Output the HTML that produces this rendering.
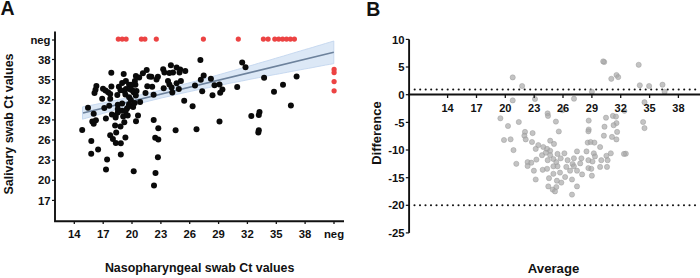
<!DOCTYPE html>
<html><head><meta charset="utf-8"><style>
html,body{margin:0;padding:0;background:#fff;width:700px;height:278px;overflow:hidden}
svg{display:block}
</style></head><body>
<svg width="700" height="278" viewBox="0 0 700 278">
<rect width="700" height="278" fill="#fff"/>
<text x="0.5" y="15.3" font-size="19.5" font-family="Liberation Sans, sans-serif" font-weight="bold" fill="#111">A</text>
<text x="366.2" y="15.5" font-size="19.5" font-family="Liberation Sans, sans-serif" font-weight="bold" fill="#111">B</text>
<polygon points="82.5,106.9 86.7,106.1 90.9,105.3 95.1,104.5 99.3,103.6 103.4,102.8 107.6,101.9 111.8,101.1 116.0,100.2 120.2,99.3 124.4,98.4 128.6,97.5 132.8,96.6 136.9,95.7 141.1,94.8 145.3,93.8 149.5,92.8 153.7,91.9 157.9,90.9 162.1,89.8 166.3,88.8 170.5,87.8 174.6,86.7 178.8,85.6 183.0,84.5 187.2,83.4 191.4,82.3 195.6,81.2 199.8,80.0 204.0,78.9 208.2,77.7 212.3,76.6 216.5,75.4 220.7,74.2 224.9,73.0 229.1,71.8 233.3,70.6 237.5,69.4 241.7,68.2 245.8,67.0 250.0,65.8 254.2,64.6 258.4,63.3 262.6,62.1 266.8,60.9 271.0,59.7 275.2,58.4 279.4,57.2 283.5,56.0 287.7,54.7 291.9,53.5 296.1,52.2 300.3,51.0 304.5,49.7 308.7,48.5 312.9,47.3 317.0,46.0 321.2,44.8 325.4,43.5 329.6,42.3 333.8,41.0 333.8,63.6 329.6,64.4 325.4,65.1 321.2,65.9 317.0,66.7 312.9,67.5 308.7,68.3 304.5,69.0 300.3,69.8 296.1,70.6 291.9,71.4 287.7,72.2 283.5,73.0 279.4,73.8 275.2,74.5 271.0,75.3 266.8,76.1 262.6,76.9 258.4,77.7 254.2,78.5 250.0,79.3 245.8,80.2 241.7,81.0 237.5,81.8 233.3,82.6 229.1,83.4 224.9,84.3 220.7,85.1 216.5,86.0 212.3,86.8 208.2,87.7 204.0,88.5 199.8,89.4 195.6,90.3 191.4,91.2 187.2,92.1 183.0,93.0 178.8,94.0 174.6,94.9 170.5,95.9 166.3,96.9 162.1,97.8 157.9,98.9 153.7,99.9 149.5,100.9 145.3,102.0 141.1,103.1 136.9,104.2 132.8,105.3 128.6,106.4 124.4,107.5 120.2,108.6 116.0,109.8 111.8,110.9 107.6,112.1 103.4,113.3 99.3,114.5 95.1,115.7 90.9,116.8 86.7,118.0 82.5,119.2" fill="#dce8f6" stroke="#c3d6ee" stroke-width="0.9"/>
<line x1="83" y1="113.0" x2="333.8" y2="52.3" stroke="#6d829c" stroke-width="1.6"/>
<circle cx="96.4" cy="86" r="3" fill="#0a0a0a"/>
<circle cx="95.5" cy="89.7" r="3" fill="#0a0a0a"/>
<circle cx="94.5" cy="93" r="3" fill="#0a0a0a"/>
<circle cx="103" cy="88.7" r="3" fill="#0a0a0a"/>
<circle cx="105.5" cy="90.6" r="3" fill="#0a0a0a"/>
<circle cx="108.1" cy="92.2" r="3" fill="#0a0a0a"/>
<circle cx="110.2" cy="94" r="3" fill="#0a0a0a"/>
<circle cx="111.4" cy="86.4" r="3" fill="#0a0a0a"/>
<circle cx="212.5" cy="95.3" r="3" fill="#0a0a0a"/>
<circle cx="170.9" cy="65.2" r="3" fill="#0a0a0a"/>
<circle cx="163.2" cy="69.2" r="3" fill="#0a0a0a"/>
<circle cx="164.4" cy="72.4" r="3" fill="#0a0a0a"/>
<circle cx="169.4" cy="73.1" r="3" fill="#0a0a0a"/>
<circle cx="173" cy="72.4" r="3" fill="#0a0a0a"/>
<circle cx="176.6" cy="67.4" r="3" fill="#0a0a0a"/>
<circle cx="180.2" cy="69.5" r="3" fill="#0a0a0a"/>
<circle cx="185.3" cy="71" r="3" fill="#0a0a0a"/>
<circle cx="179.5" cy="72.4" r="3" fill="#0a0a0a"/>
<circle cx="151.4" cy="76.7" r="3" fill="#0a0a0a"/>
<circle cx="157.9" cy="76.7" r="3" fill="#0a0a0a"/>
<circle cx="156.5" cy="79.6" r="3" fill="#0a0a0a"/>
<circle cx="168" cy="81" r="3" fill="#0a0a0a"/>
<circle cx="169.4" cy="84.6" r="3" fill="#0a0a0a"/>
<circle cx="176.6" cy="83.2" r="3" fill="#0a0a0a"/>
<circle cx="180.9" cy="81" r="3" fill="#0a0a0a"/>
<circle cx="152.2" cy="86.8" r="3" fill="#0a0a0a"/>
<circle cx="163.7" cy="88.2" r="3" fill="#0a0a0a"/>
<circle cx="171.6" cy="87.5" r="3" fill="#0a0a0a"/>
<circle cx="178.8" cy="88.9" r="3" fill="#0a0a0a"/>
<circle cx="153.6" cy="94.7" r="3" fill="#0a0a0a"/>
<circle cx="172.3" cy="92.5" r="3" fill="#0a0a0a"/>
<circle cx="111.3" cy="72.8" r="3" fill="#0a0a0a"/>
<circle cx="123.7" cy="74.1" r="3" fill="#0a0a0a"/>
<circle cx="125.9" cy="80.9" r="3" fill="#0a0a0a"/>
<circle cx="122.1" cy="83" r="3" fill="#0a0a0a"/>
<circle cx="118.9" cy="86.8" r="3" fill="#0a0a0a"/>
<circle cx="129.1" cy="84.7" r="3" fill="#0a0a0a"/>
<circle cx="124.3" cy="91.1" r="3" fill="#0a0a0a"/>
<circle cx="146.7" cy="70.1" r="3" fill="#0a0a0a"/>
<circle cx="142.9" cy="73.3" r="3" fill="#0a0a0a"/>
<circle cx="135.9" cy="76" r="3" fill="#0a0a0a"/>
<circle cx="139.2" cy="77.6" r="3" fill="#0a0a0a"/>
<circle cx="149.4" cy="76.6" r="3" fill="#0a0a0a"/>
<circle cx="134.9" cy="80.9" r="3" fill="#0a0a0a"/>
<circle cx="135.4" cy="84.7" r="3" fill="#0a0a0a"/>
<circle cx="131.1" cy="84.7" r="3" fill="#0a0a0a"/>
<circle cx="147.3" cy="86.3" r="3" fill="#0a0a0a"/>
<circle cx="132.2" cy="90" r="3" fill="#0a0a0a"/>
<circle cx="136.5" cy="91.1" r="3" fill="#0a0a0a"/>
<circle cx="120.5" cy="90.2" r="3" fill="#0a0a0a"/>
<circle cx="125.9" cy="89.1" r="3" fill="#0a0a0a"/>
<circle cx="117.3" cy="95" r="3" fill="#0a0a0a"/>
<circle cx="125.4" cy="94.5" r="3" fill="#0a0a0a"/>
<circle cx="102.2" cy="98.8" r="3" fill="#0a0a0a"/>
<circle cx="110.2" cy="98.8" r="3" fill="#0a0a0a"/>
<circle cx="129.1" cy="97.2" r="3" fill="#0a0a0a"/>
<circle cx="117.8" cy="104.7" r="3" fill="#0a0a0a"/>
<circle cx="122.1" cy="103.6" r="3" fill="#0a0a0a"/>
<circle cx="104.3" cy="108" r="3" fill="#0a0a0a"/>
<circle cx="109.2" cy="105.8" r="3" fill="#0a0a0a"/>
<circle cx="117.8" cy="109" r="3" fill="#0a0a0a"/>
<circle cx="122.1" cy="110.7" r="3" fill="#0a0a0a"/>
<circle cx="127" cy="108.5" r="3" fill="#0a0a0a"/>
<circle cx="129.1" cy="104.2" r="3" fill="#0a0a0a"/>
<circle cx="111.9" cy="114.4" r="3" fill="#0a0a0a"/>
<circle cx="115.6" cy="115.5" r="3" fill="#0a0a0a"/>
<circle cx="123.2" cy="116.6" r="3" fill="#0a0a0a"/>
<circle cx="130.4" cy="89.6" r="3" fill="#0a0a0a"/>
<circle cx="133.6" cy="92.3" r="3" fill="#0a0a0a"/>
<circle cx="135.8" cy="95.6" r="3" fill="#0a0a0a"/>
<circle cx="145.5" cy="92.9" r="3" fill="#0a0a0a"/>
<circle cx="130.9" cy="99.9" r="3" fill="#0a0a0a"/>
<circle cx="140.1" cy="102" r="3" fill="#0a0a0a"/>
<circle cx="128.8" cy="106.3" r="3" fill="#0a0a0a"/>
<circle cx="133.1" cy="106.9" r="3" fill="#0a0a0a"/>
<circle cx="134.7" cy="103.1" r="3" fill="#0a0a0a"/>
<circle cx="125.5" cy="111.2" r="3" fill="#0a0a0a"/>
<circle cx="127.7" cy="115.5" r="3" fill="#0a0a0a"/>
<circle cx="138" cy="115.5" r="3" fill="#0a0a0a"/>
<circle cx="105.9" cy="118.5" r="3" fill="#0a0a0a"/>
<circle cx="115.6" cy="117.4" r="3" fill="#0a0a0a"/>
<circle cx="117.8" cy="112.5" r="3" fill="#0a0a0a"/>
<circle cx="124.3" cy="122.2" r="3" fill="#0a0a0a"/>
<circle cx="115.1" cy="125.5" r="3" fill="#0a0a0a"/>
<circle cx="120.5" cy="126.6" r="3" fill="#0a0a0a"/>
<circle cx="116.2" cy="132.5" r="3" fill="#0a0a0a"/>
<circle cx="110.2" cy="135.2" r="3" fill="#0a0a0a"/>
<circle cx="112.9" cy="139" r="3" fill="#0a0a0a"/>
<circle cx="125.4" cy="137.4" r="3" fill="#0a0a0a"/>
<circle cx="136" cy="121.3" r="3" fill="#0a0a0a"/>
<circle cx="153.7" cy="120.1" r="3" fill="#0a0a0a"/>
<circle cx="158.3" cy="128.3" r="3" fill="#0a0a0a"/>
<circle cx="155.2" cy="137.7" r="3" fill="#0a0a0a"/>
<circle cx="158.3" cy="139.6" r="3" fill="#0a0a0a"/>
<circle cx="200.4" cy="60" r="3" fill="#0a0a0a"/>
<circle cx="203.7" cy="75.6" r="3" fill="#0a0a0a"/>
<circle cx="200.8" cy="79.7" r="3" fill="#0a0a0a"/>
<circle cx="210.9" cy="78.7" r="3" fill="#0a0a0a"/>
<circle cx="195" cy="85.6" r="3" fill="#0a0a0a"/>
<circle cx="214.5" cy="85.2" r="3" fill="#0a0a0a"/>
<circle cx="219.5" cy="84.5" r="3" fill="#0a0a0a"/>
<circle cx="202.2" cy="91.3" r="3" fill="#0a0a0a"/>
<circle cx="222.4" cy="89.5" r="3" fill="#0a0a0a"/>
<circle cx="220.2" cy="92.7" r="3" fill="#0a0a0a"/>
<circle cx="242.2" cy="62.5" r="3" fill="#0a0a0a"/>
<circle cx="245.5" cy="67.2" r="3" fill="#0a0a0a"/>
<circle cx="264.1" cy="77.7" r="3" fill="#0a0a0a"/>
<circle cx="237.2" cy="87" r="3" fill="#0a0a0a"/>
<circle cx="296.6" cy="76.6" r="3" fill="#0a0a0a"/>
<circle cx="283" cy="84.8" r="3" fill="#0a0a0a"/>
<circle cx="274" cy="91.7" r="3" fill="#0a0a0a"/>
<circle cx="88" cy="107.7" r="3" fill="#0a0a0a"/>
<circle cx="93.7" cy="113.7" r="3" fill="#0a0a0a"/>
<circle cx="92.3" cy="121.6" r="3" fill="#0a0a0a"/>
<circle cx="95.9" cy="120.2" r="3" fill="#0a0a0a"/>
<circle cx="93.7" cy="123.8" r="3" fill="#0a0a0a"/>
<circle cx="82.2" cy="130" r="3" fill="#0a0a0a"/>
<circle cx="184.2" cy="100.8" r="3" fill="#0a0a0a"/>
<circle cx="175.6" cy="130.3" r="3" fill="#0a0a0a"/>
<circle cx="192.6" cy="106.2" r="3" fill="#0a0a0a"/>
<circle cx="219.5" cy="121.6" r="3" fill="#0a0a0a"/>
<circle cx="196.5" cy="129.2" r="3" fill="#0a0a0a"/>
<circle cx="251.3" cy="115.9" r="3" fill="#0a0a0a"/>
<circle cx="259.5" cy="112" r="3" fill="#0a0a0a"/>
<circle cx="258.8" cy="115.1" r="3" fill="#0a0a0a"/>
<circle cx="258.8" cy="130.3" r="3" fill="#0a0a0a"/>
<circle cx="258.3" cy="132.4" r="3" fill="#0a0a0a"/>
<circle cx="290.9" cy="105.4" r="3" fill="#0a0a0a"/>
<circle cx="91.3" cy="141" r="3" fill="#0a0a0a"/>
<circle cx="98.1" cy="149.4" r="3" fill="#0a0a0a"/>
<circle cx="91.2" cy="153.7" r="3" fill="#0a0a0a"/>
<circle cx="107.1" cy="159.5" r="3" fill="#0a0a0a"/>
<circle cx="106" cy="169.5" r="3" fill="#0a0a0a"/>
<circle cx="115.8" cy="142.9" r="3" fill="#0a0a0a"/>
<circle cx="120.8" cy="143.3" r="3" fill="#0a0a0a"/>
<circle cx="120.8" cy="154.4" r="3" fill="#0a0a0a"/>
<circle cx="133.7" cy="171.3" r="3" fill="#0a0a0a"/>
<circle cx="157.9" cy="157.3" r="3" fill="#0a0a0a"/>
<circle cx="155.5" cy="173.1" r="3" fill="#0a0a0a"/>
<circle cx="154" cy="185.4" r="3" fill="#0a0a0a"/>
<circle cx="118.3" cy="39.1" r="2.6" fill="#ec4343"/>
<circle cx="122.2" cy="39.1" r="2.6" fill="#ec4343"/>
<circle cx="126.1" cy="39.1" r="2.6" fill="#ec4343"/>
<circle cx="141.4" cy="39.1" r="2.6" fill="#ec4343"/>
<circle cx="144.9" cy="39.1" r="2.6" fill="#ec4343"/>
<circle cx="156.3" cy="39.1" r="2.6" fill="#ec4343"/>
<circle cx="203.4" cy="39.1" r="2.6" fill="#ec4343"/>
<circle cx="238.3" cy="39.1" r="2.6" fill="#ec4343"/>
<circle cx="263.4" cy="39.1" r="2.6" fill="#ec4343"/>
<circle cx="268.1" cy="39.1" r="2.6" fill="#ec4343"/>
<circle cx="274.8" cy="39.1" r="2.6" fill="#ec4343"/>
<circle cx="278.7" cy="39.1" r="2.6" fill="#ec4343"/>
<circle cx="282.6" cy="39.1" r="2.6" fill="#ec4343"/>
<circle cx="286.5" cy="39.1" r="2.6" fill="#ec4343"/>
<circle cx="290.4" cy="39.1" r="2.6" fill="#ec4343"/>
<circle cx="294.4" cy="39.1" r="2.6" fill="#ec4343"/>
<circle cx="334.1" cy="69.4" r="2.6" fill="#ec4343"/>
<circle cx="334.1" cy="72.6" r="2.6" fill="#ec4343"/>
<circle cx="334.1" cy="81.6" r="2.6" fill="#ec4343"/>
<circle cx="334.1" cy="90.8" r="2.6" fill="#ec4343"/>
<path d="M55.0,31.6 V221.2 H344.0" fill="none" stroke="#111" stroke-width="1.9"/>
<line x1="52" y1="40.0" x2="55.0" y2="40.0" stroke="#111" stroke-width="1.2"/>
<text x="50.5" y="44.1" font-size="11.3" font-family="Liberation Sans, sans-serif" font-weight="bold" fill="#111" text-anchor="end">neg</text>
<line x1="52" y1="59.5" x2="55.0" y2="59.5" stroke="#111" stroke-width="1.2"/>
<text x="50.5" y="63.6" font-size="11.3" font-family="Liberation Sans, sans-serif" font-weight="bold" fill="#111" text-anchor="end">38</text>
<line x1="52" y1="79.6" x2="55.0" y2="79.6" stroke="#111" stroke-width="1.2"/>
<text x="50.5" y="83.7" font-size="11.3" font-family="Liberation Sans, sans-serif" font-weight="bold" fill="#111" text-anchor="end">35</text>
<line x1="52" y1="99.8" x2="55.0" y2="99.8" stroke="#111" stroke-width="1.2"/>
<text x="50.5" y="103.9" font-size="11.3" font-family="Liberation Sans, sans-serif" font-weight="bold" fill="#111" text-anchor="end">32</text>
<line x1="52" y1="119.9" x2="55.0" y2="119.9" stroke="#111" stroke-width="1.2"/>
<text x="50.5" y="124.0" font-size="11.3" font-family="Liberation Sans, sans-serif" font-weight="bold" fill="#111" text-anchor="end">29</text>
<line x1="52" y1="140.0" x2="55.0" y2="140.0" stroke="#111" stroke-width="1.2"/>
<text x="50.5" y="144.1" font-size="11.3" font-family="Liberation Sans, sans-serif" font-weight="bold" fill="#111" text-anchor="end">26</text>
<line x1="52" y1="160.2" x2="55.0" y2="160.2" stroke="#111" stroke-width="1.2"/>
<text x="50.5" y="164.2" font-size="11.3" font-family="Liberation Sans, sans-serif" font-weight="bold" fill="#111" text-anchor="end">23</text>
<line x1="52" y1="180.3" x2="55.0" y2="180.3" stroke="#111" stroke-width="1.2"/>
<text x="50.5" y="184.4" font-size="11.3" font-family="Liberation Sans, sans-serif" font-weight="bold" fill="#111" text-anchor="end">20</text>
<line x1="52" y1="200.4" x2="55.0" y2="200.4" stroke="#111" stroke-width="1.2"/>
<text x="50.5" y="204.5" font-size="11.3" font-family="Liberation Sans, sans-serif" font-weight="bold" fill="#111" text-anchor="end">17</text>
<line x1="74.3" y1="221.2" x2="74.3" y2="224.0" stroke="#111" stroke-width="1.3"/>
<text x="74.3" y="237.6" font-size="11.3" font-family="Liberation Sans, sans-serif" font-weight="bold" fill="#111" text-anchor="middle">14</text>
<line x1="103.2" y1="221.2" x2="103.2" y2="224.0" stroke="#111" stroke-width="1.3"/>
<text x="103.2" y="237.6" font-size="11.3" font-family="Liberation Sans, sans-serif" font-weight="bold" fill="#111" text-anchor="middle">17</text>
<line x1="132.0" y1="221.2" x2="132.0" y2="224.0" stroke="#111" stroke-width="1.3"/>
<text x="132.0" y="237.6" font-size="11.3" font-family="Liberation Sans, sans-serif" font-weight="bold" fill="#111" text-anchor="middle">20</text>
<line x1="160.9" y1="221.2" x2="160.9" y2="224.0" stroke="#111" stroke-width="1.3"/>
<text x="160.9" y="237.6" font-size="11.3" font-family="Liberation Sans, sans-serif" font-weight="bold" fill="#111" text-anchor="middle">23</text>
<line x1="189.7" y1="221.2" x2="189.7" y2="224.0" stroke="#111" stroke-width="1.3"/>
<text x="189.7" y="237.6" font-size="11.3" font-family="Liberation Sans, sans-serif" font-weight="bold" fill="#111" text-anchor="middle">26</text>
<line x1="218.6" y1="221.2" x2="218.6" y2="224.0" stroke="#111" stroke-width="1.3"/>
<text x="218.6" y="237.6" font-size="11.3" font-family="Liberation Sans, sans-serif" font-weight="bold" fill="#111" text-anchor="middle">29</text>
<line x1="247.4" y1="221.2" x2="247.4" y2="224.0" stroke="#111" stroke-width="1.3"/>
<text x="247.4" y="237.6" font-size="11.3" font-family="Liberation Sans, sans-serif" font-weight="bold" fill="#111" text-anchor="middle">32</text>
<line x1="276.3" y1="221.2" x2="276.3" y2="224.0" stroke="#111" stroke-width="1.3"/>
<text x="276.3" y="237.6" font-size="11.3" font-family="Liberation Sans, sans-serif" font-weight="bold" fill="#111" text-anchor="middle">35</text>
<line x1="305.1" y1="221.2" x2="305.1" y2="224.0" stroke="#111" stroke-width="1.3"/>
<text x="305.1" y="237.6" font-size="11.3" font-family="Liberation Sans, sans-serif" font-weight="bold" fill="#111" text-anchor="middle">38</text>
<line x1="334.0" y1="221.2" x2="334.0" y2="224.0" stroke="#111" stroke-width="1.3"/>
<text x="334.0" y="237.6" font-size="11.3" font-family="Liberation Sans, sans-serif" font-weight="bold" fill="#111" text-anchor="middle">neg</text>
<text x="104.9" y="271.8" font-size="12.4" font-family="Liberation Sans, sans-serif" font-weight="bold" fill="#111" textLength="189.5" lengthAdjust="spacingAndGlyphs">Nasopharyngeal swab Ct values</text>
<text transform="translate(13.0,124) rotate(-90)" font-size="12.4" font-family="Liberation Sans, sans-serif" font-weight="bold" fill="#111" text-anchor="middle" textLength="141" lengthAdjust="spacingAndGlyphs">Salivary swab Ct values</text>
<circle cx="414.70" cy="89.5" r="1.05" fill="#111"/><circle cx="420.20" cy="89.5" r="1.05" fill="#111"/><circle cx="425.70" cy="89.5" r="1.05" fill="#111"/><circle cx="431.20" cy="89.5" r="1.05" fill="#111"/><circle cx="436.70" cy="89.5" r="1.05" fill="#111"/><circle cx="442.20" cy="89.5" r="1.05" fill="#111"/><circle cx="447.70" cy="89.5" r="1.05" fill="#111"/><circle cx="453.20" cy="89.5" r="1.05" fill="#111"/><circle cx="458.70" cy="89.5" r="1.05" fill="#111"/><circle cx="464.20" cy="89.5" r="1.05" fill="#111"/><circle cx="469.70" cy="89.5" r="1.05" fill="#111"/><circle cx="475.20" cy="89.5" r="1.05" fill="#111"/><circle cx="480.70" cy="89.5" r="1.05" fill="#111"/><circle cx="486.20" cy="89.5" r="1.05" fill="#111"/><circle cx="491.70" cy="89.5" r="1.05" fill="#111"/><circle cx="497.20" cy="89.5" r="1.05" fill="#111"/><circle cx="502.70" cy="89.5" r="1.05" fill="#111"/><circle cx="508.20" cy="89.5" r="1.05" fill="#111"/><circle cx="513.70" cy="89.5" r="1.05" fill="#111"/><circle cx="519.20" cy="89.5" r="1.05" fill="#111"/><circle cx="524.70" cy="89.5" r="1.05" fill="#111"/><circle cx="530.20" cy="89.5" r="1.05" fill="#111"/><circle cx="535.70" cy="89.5" r="1.05" fill="#111"/><circle cx="541.20" cy="89.5" r="1.05" fill="#111"/><circle cx="546.70" cy="89.5" r="1.05" fill="#111"/><circle cx="552.20" cy="89.5" r="1.05" fill="#111"/><circle cx="557.70" cy="89.5" r="1.05" fill="#111"/><circle cx="563.20" cy="89.5" r="1.05" fill="#111"/><circle cx="568.70" cy="89.5" r="1.05" fill="#111"/><circle cx="574.20" cy="89.5" r="1.05" fill="#111"/><circle cx="579.70" cy="89.5" r="1.05" fill="#111"/><circle cx="585.20" cy="89.5" r="1.05" fill="#111"/><circle cx="590.70" cy="89.5" r="1.05" fill="#111"/><circle cx="596.20" cy="89.5" r="1.05" fill="#111"/><circle cx="601.70" cy="89.5" r="1.05" fill="#111"/><circle cx="607.20" cy="89.5" r="1.05" fill="#111"/><circle cx="612.70" cy="89.5" r="1.05" fill="#111"/><circle cx="618.20" cy="89.5" r="1.05" fill="#111"/><circle cx="623.70" cy="89.5" r="1.05" fill="#111"/><circle cx="629.20" cy="89.5" r="1.05" fill="#111"/><circle cx="634.70" cy="89.5" r="1.05" fill="#111"/><circle cx="640.20" cy="89.5" r="1.05" fill="#111"/><circle cx="645.70" cy="89.5" r="1.05" fill="#111"/><circle cx="651.20" cy="89.5" r="1.05" fill="#111"/><circle cx="656.70" cy="89.5" r="1.05" fill="#111"/><circle cx="662.20" cy="89.5" r="1.05" fill="#111"/><circle cx="667.70" cy="89.5" r="1.05" fill="#111"/><circle cx="673.20" cy="89.5" r="1.05" fill="#111"/><circle cx="678.70" cy="89.5" r="1.05" fill="#111"/><circle cx="684.20" cy="89.5" r="1.05" fill="#111"/><circle cx="689.70" cy="89.5" r="1.05" fill="#111"/><circle cx="695.20" cy="89.5" r="1.05" fill="#111"/>
<circle cx="414.50" cy="205.3" r="1.05" fill="#111"/><circle cx="420.00" cy="205.3" r="1.05" fill="#111"/><circle cx="425.50" cy="205.3" r="1.05" fill="#111"/><circle cx="431.00" cy="205.3" r="1.05" fill="#111"/><circle cx="436.50" cy="205.3" r="1.05" fill="#111"/><circle cx="442.00" cy="205.3" r="1.05" fill="#111"/><circle cx="447.50" cy="205.3" r="1.05" fill="#111"/><circle cx="453.00" cy="205.3" r="1.05" fill="#111"/><circle cx="458.50" cy="205.3" r="1.05" fill="#111"/><circle cx="464.00" cy="205.3" r="1.05" fill="#111"/><circle cx="469.50" cy="205.3" r="1.05" fill="#111"/><circle cx="475.00" cy="205.3" r="1.05" fill="#111"/><circle cx="480.50" cy="205.3" r="1.05" fill="#111"/><circle cx="486.00" cy="205.3" r="1.05" fill="#111"/><circle cx="491.50" cy="205.3" r="1.05" fill="#111"/><circle cx="497.00" cy="205.3" r="1.05" fill="#111"/><circle cx="502.50" cy="205.3" r="1.05" fill="#111"/><circle cx="508.00" cy="205.3" r="1.05" fill="#111"/><circle cx="513.50" cy="205.3" r="1.05" fill="#111"/><circle cx="519.00" cy="205.3" r="1.05" fill="#111"/><circle cx="524.50" cy="205.3" r="1.05" fill="#111"/><circle cx="530.00" cy="205.3" r="1.05" fill="#111"/><circle cx="535.50" cy="205.3" r="1.05" fill="#111"/><circle cx="541.00" cy="205.3" r="1.05" fill="#111"/><circle cx="546.50" cy="205.3" r="1.05" fill="#111"/><circle cx="552.00" cy="205.3" r="1.05" fill="#111"/><circle cx="557.50" cy="205.3" r="1.05" fill="#111"/><circle cx="563.00" cy="205.3" r="1.05" fill="#111"/><circle cx="568.50" cy="205.3" r="1.05" fill="#111"/><circle cx="574.00" cy="205.3" r="1.05" fill="#111"/><circle cx="579.50" cy="205.3" r="1.05" fill="#111"/><circle cx="585.00" cy="205.3" r="1.05" fill="#111"/><circle cx="590.50" cy="205.3" r="1.05" fill="#111"/><circle cx="596.00" cy="205.3" r="1.05" fill="#111"/><circle cx="601.50" cy="205.3" r="1.05" fill="#111"/><circle cx="607.00" cy="205.3" r="1.05" fill="#111"/><circle cx="612.50" cy="205.3" r="1.05" fill="#111"/><circle cx="618.00" cy="205.3" r="1.05" fill="#111"/><circle cx="623.50" cy="205.3" r="1.05" fill="#111"/><circle cx="629.00" cy="205.3" r="1.05" fill="#111"/><circle cx="634.50" cy="205.3" r="1.05" fill="#111"/><circle cx="640.00" cy="205.3" r="1.05" fill="#111"/><circle cx="645.50" cy="205.3" r="1.05" fill="#111"/><circle cx="651.00" cy="205.3" r="1.05" fill="#111"/><circle cx="656.50" cy="205.3" r="1.05" fill="#111"/><circle cx="662.00" cy="205.3" r="1.05" fill="#111"/><circle cx="667.50" cy="205.3" r="1.05" fill="#111"/><circle cx="673.00" cy="205.3" r="1.05" fill="#111"/><circle cx="678.50" cy="205.3" r="1.05" fill="#111"/><circle cx="684.00" cy="205.3" r="1.05" fill="#111"/><circle cx="689.50" cy="205.3" r="1.05" fill="#111"/><circle cx="695.00" cy="205.3" r="1.05" fill="#111"/>
<defs><filter id="bl" x="-10%" y="-10%" width="120%" height="120%"><feGaussianBlur stdDeviation="0.6"/></filter></defs><g filter="url(#bl)">
<circle cx="604.2" cy="62" r="2.6" fill="#aaaaaa" fill-opacity="0.7" stroke="#959595" stroke-opacity="0.55" stroke-width="0.8"/>
<circle cx="638.7" cy="64.8" r="2.6" fill="#aaaaaa" fill-opacity="0.7" stroke="#959595" stroke-opacity="0.55" stroke-width="0.8"/>
<circle cx="616.5" cy="75" r="2.6" fill="#aaaaaa" fill-opacity="0.7" stroke="#959595" stroke-opacity="0.55" stroke-width="0.8"/>
<circle cx="618.2" cy="77.1" r="2.6" fill="#aaaaaa" fill-opacity="0.7" stroke="#959595" stroke-opacity="0.55" stroke-width="0.8"/>
<circle cx="611.3" cy="78.8" r="2.6" fill="#aaaaaa" fill-opacity="0.7" stroke="#959595" stroke-opacity="0.55" stroke-width="0.8"/>
<circle cx="639.8" cy="85.3" r="2.6" fill="#aaaaaa" fill-opacity="0.7" stroke="#959595" stroke-opacity="0.55" stroke-width="0.8"/>
<circle cx="649.1" cy="86" r="2.6" fill="#aaaaaa" fill-opacity="0.7" stroke="#959595" stroke-opacity="0.55" stroke-width="0.8"/>
<circle cx="662.5" cy="84.7" r="2.6" fill="#aaaaaa" fill-opacity="0.7" stroke="#959595" stroke-opacity="0.55" stroke-width="0.8"/>
<circle cx="664.6" cy="91.8" r="2.6" fill="#aaaaaa" fill-opacity="0.7" stroke="#959595" stroke-opacity="0.55" stroke-width="0.8"/>
<circle cx="591.9" cy="91.8" r="2.6" fill="#aaaaaa" fill-opacity="0.7" stroke="#959595" stroke-opacity="0.55" stroke-width="0.8"/>
<circle cx="574" cy="98.7" r="2.6" fill="#aaaaaa" fill-opacity="0.7" stroke="#959595" stroke-opacity="0.55" stroke-width="0.8"/>
<circle cx="512.7" cy="77.4" r="2.6" fill="#aaaaaa" fill-opacity="0.7" stroke="#959595" stroke-opacity="0.55" stroke-width="0.8"/>
<circle cx="522.1" cy="86" r="2.6" fill="#aaaaaa" fill-opacity="0.7" stroke="#959595" stroke-opacity="0.55" stroke-width="0.8"/>
<circle cx="512.7" cy="100.4" r="2.6" fill="#aaaaaa" fill-opacity="0.7" stroke="#959595" stroke-opacity="0.55" stroke-width="0.8"/>
<circle cx="500.4" cy="118.3" r="2.6" fill="#aaaaaa" fill-opacity="0.7" stroke="#959595" stroke-opacity="0.55" stroke-width="0.8"/>
<circle cx="508" cy="126" r="2.6" fill="#aaaaaa" fill-opacity="0.7" stroke="#959595" stroke-opacity="0.55" stroke-width="0.8"/>
<circle cx="518.8" cy="122" r="2.6" fill="#aaaaaa" fill-opacity="0.7" stroke="#959595" stroke-opacity="0.55" stroke-width="0.8"/>
<circle cx="535" cy="99" r="2.6" fill="#aaaaaa" fill-opacity="0.7" stroke="#959595" stroke-opacity="0.55" stroke-width="0.8"/>
<circle cx="547.6" cy="113.4" r="2.6" fill="#aaaaaa" fill-opacity="0.7" stroke="#959595" stroke-opacity="0.55" stroke-width="0.8"/>
<circle cx="548" cy="115.9" r="2.6" fill="#aaaaaa" fill-opacity="0.7" stroke="#959595" stroke-opacity="0.55" stroke-width="0.8"/>
<circle cx="555.9" cy="121.6" r="2.6" fill="#aaaaaa" fill-opacity="0.7" stroke="#959595" stroke-opacity="0.55" stroke-width="0.8"/>
<circle cx="588.7" cy="120.6" r="2.6" fill="#aaaaaa" fill-opacity="0.7" stroke="#959595" stroke-opacity="0.55" stroke-width="0.8"/>
<circle cx="588.7" cy="129.5" r="2.6" fill="#aaaaaa" fill-opacity="0.7" stroke="#959595" stroke-opacity="0.55" stroke-width="0.8"/>
<circle cx="606" cy="117.7" r="2.6" fill="#aaaaaa" fill-opacity="0.7" stroke="#959595" stroke-opacity="0.55" stroke-width="0.8"/>
<circle cx="604.5" cy="126.7" r="2.6" fill="#aaaaaa" fill-opacity="0.7" stroke="#959595" stroke-opacity="0.55" stroke-width="0.8"/>
<circle cx="624.4" cy="110.8" r="2.6" fill="#aaaaaa" fill-opacity="0.7" stroke="#959595" stroke-opacity="0.55" stroke-width="0.8"/>
<circle cx="644.5" cy="102.2" r="2.6" fill="#aaaaaa" fill-opacity="0.7" stroke="#959595" stroke-opacity="0.55" stroke-width="0.8"/>
<circle cx="612.9" cy="115.9" r="2.6" fill="#aaaaaa" fill-opacity="0.7" stroke="#959595" stroke-opacity="0.55" stroke-width="0.8"/>
<circle cx="616" cy="116.6" r="2.6" fill="#aaaaaa" fill-opacity="0.7" stroke="#959595" stroke-opacity="0.55" stroke-width="0.8"/>
<circle cx="616.5" cy="123.1" r="2.6" fill="#aaaaaa" fill-opacity="0.7" stroke="#959595" stroke-opacity="0.55" stroke-width="0.8"/>
<circle cx="613.6" cy="125.2" r="2.6" fill="#aaaaaa" fill-opacity="0.7" stroke="#959595" stroke-opacity="0.55" stroke-width="0.8"/>
<circle cx="643.1" cy="122" r="2.6" fill="#aaaaaa" fill-opacity="0.7" stroke="#959595" stroke-opacity="0.55" stroke-width="0.8"/>
<circle cx="644.5" cy="128.1" r="2.6" fill="#aaaaaa" fill-opacity="0.7" stroke="#959595" stroke-opacity="0.55" stroke-width="0.8"/>
<circle cx="504" cy="140" r="2.6" fill="#aaaaaa" fill-opacity="0.7" stroke="#959595" stroke-opacity="0.55" stroke-width="0.8"/>
<circle cx="510.6" cy="139.3" r="2.6" fill="#aaaaaa" fill-opacity="0.7" stroke="#959595" stroke-opacity="0.55" stroke-width="0.8"/>
<circle cx="513.5" cy="150.1" r="2.6" fill="#aaaaaa" fill-opacity="0.7" stroke="#959595" stroke-opacity="0.55" stroke-width="0.8"/>
<circle cx="516.3" cy="163.8" r="2.6" fill="#aaaaaa" fill-opacity="0.7" stroke="#959595" stroke-opacity="0.55" stroke-width="0.8"/>
<circle cx="625.8" cy="153.7" r="2.6" fill="#aaaaaa" fill-opacity="0.7" stroke="#959595" stroke-opacity="0.55" stroke-width="0.8"/>
<circle cx="525" cy="131.9" r="2.6" fill="#aaaaaa" fill-opacity="0.7" stroke="#959595" stroke-opacity="0.55" stroke-width="0.8"/>
<circle cx="532.6" cy="133.1" r="2.6" fill="#aaaaaa" fill-opacity="0.7" stroke="#959595" stroke-opacity="0.55" stroke-width="0.8"/>
<circle cx="524.4" cy="135.7" r="2.6" fill="#aaaaaa" fill-opacity="0.7" stroke="#959595" stroke-opacity="0.55" stroke-width="0.8"/>
<circle cx="525.7" cy="139.4" r="2.6" fill="#aaaaaa" fill-opacity="0.7" stroke="#959595" stroke-opacity="0.55" stroke-width="0.8"/>
<circle cx="532" cy="142" r="2.6" fill="#aaaaaa" fill-opacity="0.7" stroke="#959595" stroke-opacity="0.55" stroke-width="0.8"/>
<circle cx="550.2" cy="140.7" r="2.6" fill="#aaaaaa" fill-opacity="0.7" stroke="#959595" stroke-opacity="0.55" stroke-width="0.8"/>
<circle cx="554" cy="143.9" r="2.6" fill="#aaaaaa" fill-opacity="0.7" stroke="#959595" stroke-opacity="0.55" stroke-width="0.8"/>
<circle cx="538.3" cy="145.1" r="2.6" fill="#aaaaaa" fill-opacity="0.7" stroke="#959595" stroke-opacity="0.55" stroke-width="0.8"/>
<circle cx="535.7" cy="148.9" r="2.6" fill="#aaaaaa" fill-opacity="0.7" stroke="#959595" stroke-opacity="0.55" stroke-width="0.8"/>
<circle cx="543.3" cy="147" r="2.6" fill="#aaaaaa" fill-opacity="0.7" stroke="#959595" stroke-opacity="0.55" stroke-width="0.8"/>
<circle cx="547.1" cy="148.9" r="2.6" fill="#aaaaaa" fill-opacity="0.7" stroke="#959595" stroke-opacity="0.55" stroke-width="0.8"/>
<circle cx="550.2" cy="150.8" r="2.6" fill="#aaaaaa" fill-opacity="0.7" stroke="#959595" stroke-opacity="0.55" stroke-width="0.8"/>
<circle cx="545.8" cy="152.7" r="2.6" fill="#aaaaaa" fill-opacity="0.7" stroke="#959595" stroke-opacity="0.55" stroke-width="0.8"/>
<circle cx="542" cy="155.2" r="2.6" fill="#aaaaaa" fill-opacity="0.7" stroke="#959595" stroke-opacity="0.55" stroke-width="0.8"/>
<circle cx="550.2" cy="155.2" r="2.6" fill="#aaaaaa" fill-opacity="0.7" stroke="#959595" stroke-opacity="0.55" stroke-width="0.8"/>
<circle cx="536.4" cy="159.6" r="2.6" fill="#aaaaaa" fill-opacity="0.7" stroke="#959595" stroke-opacity="0.55" stroke-width="0.8"/>
<circle cx="547.7" cy="160.2" r="2.6" fill="#aaaaaa" fill-opacity="0.7" stroke="#959595" stroke-opacity="0.55" stroke-width="0.8"/>
<circle cx="553.4" cy="159" r="2.6" fill="#aaaaaa" fill-opacity="0.7" stroke="#959595" stroke-opacity="0.55" stroke-width="0.8"/>
<circle cx="527.6" cy="162.1" r="2.6" fill="#aaaaaa" fill-opacity="0.7" stroke="#959595" stroke-opacity="0.55" stroke-width="0.8"/>
<circle cx="531.3" cy="162.7" r="2.6" fill="#aaaaaa" fill-opacity="0.7" stroke="#959595" stroke-opacity="0.55" stroke-width="0.8"/>
<circle cx="558.8" cy="131.5" r="2.6" fill="#aaaaaa" fill-opacity="0.7" stroke="#959595" stroke-opacity="0.55" stroke-width="0.8"/>
<circle cx="588.4" cy="131.3" r="2.6" fill="#aaaaaa" fill-opacity="0.7" stroke="#959595" stroke-opacity="0.55" stroke-width="0.8"/>
<circle cx="587.7" cy="142.6" r="2.6" fill="#aaaaaa" fill-opacity="0.7" stroke="#959595" stroke-opacity="0.55" stroke-width="0.8"/>
<circle cx="577" cy="151.4" r="2.6" fill="#aaaaaa" fill-opacity="0.7" stroke="#959595" stroke-opacity="0.55" stroke-width="0.8"/>
<circle cx="586.5" cy="151.4" r="2.6" fill="#aaaaaa" fill-opacity="0.7" stroke="#959595" stroke-opacity="0.55" stroke-width="0.8"/>
<circle cx="557.5" cy="153.9" r="2.6" fill="#aaaaaa" fill-opacity="0.7" stroke="#959595" stroke-opacity="0.55" stroke-width="0.8"/>
<circle cx="564.4" cy="153.3" r="2.6" fill="#aaaaaa" fill-opacity="0.7" stroke="#959595" stroke-opacity="0.55" stroke-width="0.8"/>
<circle cx="573.9" cy="158.3" r="2.6" fill="#aaaaaa" fill-opacity="0.7" stroke="#959595" stroke-opacity="0.55" stroke-width="0.8"/>
<circle cx="581.4" cy="158.3" r="2.6" fill="#aaaaaa" fill-opacity="0.7" stroke="#959595" stroke-opacity="0.55" stroke-width="0.8"/>
<circle cx="560.7" cy="158.3" r="2.6" fill="#aaaaaa" fill-opacity="0.7" stroke="#959595" stroke-opacity="0.55" stroke-width="0.8"/>
<circle cx="567.6" cy="160.2" r="2.6" fill="#aaaaaa" fill-opacity="0.7" stroke="#959595" stroke-opacity="0.55" stroke-width="0.8"/>
<circle cx="588.4" cy="160.2" r="2.6" fill="#aaaaaa" fill-opacity="0.7" stroke="#959595" stroke-opacity="0.55" stroke-width="0.8"/>
<circle cx="556.3" cy="162.1" r="2.6" fill="#aaaaaa" fill-opacity="0.7" stroke="#959595" stroke-opacity="0.55" stroke-width="0.8"/>
<circle cx="572.6" cy="164" r="2.6" fill="#aaaaaa" fill-opacity="0.7" stroke="#959595" stroke-opacity="0.55" stroke-width="0.8"/>
<circle cx="580.2" cy="163.4" r="2.6" fill="#aaaaaa" fill-opacity="0.7" stroke="#959595" stroke-opacity="0.55" stroke-width="0.8"/>
<circle cx="617.1" cy="131.9" r="2.6" fill="#aaaaaa" fill-opacity="0.7" stroke="#959595" stroke-opacity="0.55" stroke-width="0.8"/>
<circle cx="603.9" cy="135.7" r="2.6" fill="#aaaaaa" fill-opacity="0.7" stroke="#959595" stroke-opacity="0.55" stroke-width="0.8"/>
<circle cx="612" cy="136.9" r="2.6" fill="#aaaaaa" fill-opacity="0.7" stroke="#959595" stroke-opacity="0.55" stroke-width="0.8"/>
<circle cx="616.4" cy="139.4" r="2.6" fill="#aaaaaa" fill-opacity="0.7" stroke="#959595" stroke-opacity="0.55" stroke-width="0.8"/>
<circle cx="590.6" cy="142" r="2.6" fill="#aaaaaa" fill-opacity="0.7" stroke="#959595" stroke-opacity="0.55" stroke-width="0.8"/>
<circle cx="594.4" cy="142.6" r="2.6" fill="#aaaaaa" fill-opacity="0.7" stroke="#959595" stroke-opacity="0.55" stroke-width="0.8"/>
<circle cx="600.1" cy="147" r="2.6" fill="#aaaaaa" fill-opacity="0.7" stroke="#959595" stroke-opacity="0.55" stroke-width="0.8"/>
<circle cx="593.8" cy="153.3" r="2.6" fill="#aaaaaa" fill-opacity="0.7" stroke="#959595" stroke-opacity="0.55" stroke-width="0.8"/>
<circle cx="595" cy="156.4" r="2.6" fill="#aaaaaa" fill-opacity="0.7" stroke="#959595" stroke-opacity="0.55" stroke-width="0.8"/>
<circle cx="610.8" cy="153.3" r="2.6" fill="#aaaaaa" fill-opacity="0.7" stroke="#959595" stroke-opacity="0.55" stroke-width="0.8"/>
<circle cx="606.4" cy="155.8" r="2.6" fill="#aaaaaa" fill-opacity="0.7" stroke="#959595" stroke-opacity="0.55" stroke-width="0.8"/>
<circle cx="624" cy="153.9" r="2.6" fill="#aaaaaa" fill-opacity="0.7" stroke="#959595" stroke-opacity="0.55" stroke-width="0.8"/>
<circle cx="592.5" cy="161.5" r="2.6" fill="#aaaaaa" fill-opacity="0.7" stroke="#959595" stroke-opacity="0.55" stroke-width="0.8"/>
<circle cx="601.3" cy="160.2" r="2.6" fill="#aaaaaa" fill-opacity="0.7" stroke="#959595" stroke-opacity="0.55" stroke-width="0.8"/>
<circle cx="607.6" cy="160.2" r="2.6" fill="#aaaaaa" fill-opacity="0.7" stroke="#959595" stroke-opacity="0.55" stroke-width="0.8"/>
<circle cx="527.6" cy="166" r="2.6" fill="#aaaaaa" fill-opacity="0.7" stroke="#959595" stroke-opacity="0.55" stroke-width="0.8"/>
<circle cx="533.9" cy="170.7" r="2.6" fill="#aaaaaa" fill-opacity="0.7" stroke="#959595" stroke-opacity="0.55" stroke-width="0.8"/>
<circle cx="542.7" cy="169.8" r="2.6" fill="#aaaaaa" fill-opacity="0.7" stroke="#959595" stroke-opacity="0.55" stroke-width="0.8"/>
<circle cx="547.1" cy="168.8" r="2.6" fill="#aaaaaa" fill-opacity="0.7" stroke="#959595" stroke-opacity="0.55" stroke-width="0.8"/>
<circle cx="553.4" cy="173.8" r="2.6" fill="#aaaaaa" fill-opacity="0.7" stroke="#959595" stroke-opacity="0.55" stroke-width="0.8"/>
<circle cx="535.7" cy="179.5" r="2.6" fill="#aaaaaa" fill-opacity="0.7" stroke="#959595" stroke-opacity="0.55" stroke-width="0.8"/>
<circle cx="549" cy="178.2" r="2.6" fill="#aaaaaa" fill-opacity="0.7" stroke="#959595" stroke-opacity="0.55" stroke-width="0.8"/>
<circle cx="548.3" cy="186.4" r="2.6" fill="#aaaaaa" fill-opacity="0.7" stroke="#959595" stroke-opacity="0.55" stroke-width="0.8"/>
<circle cx="552.7" cy="189.6" r="2.6" fill="#aaaaaa" fill-opacity="0.7" stroke="#959595" stroke-opacity="0.55" stroke-width="0.8"/>
<circle cx="553.4" cy="166.3" r="2.6" fill="#aaaaaa" fill-opacity="0.7" stroke="#959595" stroke-opacity="0.55" stroke-width="0.8"/>
<circle cx="557.5" cy="166.3" r="2.6" fill="#aaaaaa" fill-opacity="0.7" stroke="#959595" stroke-opacity="0.55" stroke-width="0.8"/>
<circle cx="566.3" cy="166.9" r="2.6" fill="#aaaaaa" fill-opacity="0.7" stroke="#959595" stroke-opacity="0.55" stroke-width="0.8"/>
<circle cx="573.9" cy="166.3" r="2.6" fill="#aaaaaa" fill-opacity="0.7" stroke="#959595" stroke-opacity="0.55" stroke-width="0.8"/>
<circle cx="588.4" cy="168.1" r="2.6" fill="#aaaaaa" fill-opacity="0.7" stroke="#959595" stroke-opacity="0.55" stroke-width="0.8"/>
<circle cx="560" cy="172.6" r="2.6" fill="#aaaaaa" fill-opacity="0.7" stroke="#959595" stroke-opacity="0.55" stroke-width="0.8"/>
<circle cx="570.1" cy="170.7" r="2.6" fill="#aaaaaa" fill-opacity="0.7" stroke="#959595" stroke-opacity="0.55" stroke-width="0.8"/>
<circle cx="577" cy="170.7" r="2.6" fill="#aaaaaa" fill-opacity="0.7" stroke="#959595" stroke-opacity="0.55" stroke-width="0.8"/>
<circle cx="582.1" cy="174.4" r="2.6" fill="#aaaaaa" fill-opacity="0.7" stroke="#959595" stroke-opacity="0.55" stroke-width="0.8"/>
<circle cx="565.1" cy="177" r="2.6" fill="#aaaaaa" fill-opacity="0.7" stroke="#959595" stroke-opacity="0.55" stroke-width="0.8"/>
<circle cx="572" cy="179.5" r="2.6" fill="#aaaaaa" fill-opacity="0.7" stroke="#959595" stroke-opacity="0.55" stroke-width="0.8"/>
<circle cx="556.9" cy="180.7" r="2.6" fill="#aaaaaa" fill-opacity="0.7" stroke="#959595" stroke-opacity="0.55" stroke-width="0.8"/>
<circle cx="561.3" cy="182.6" r="2.6" fill="#aaaaaa" fill-opacity="0.7" stroke="#959595" stroke-opacity="0.55" stroke-width="0.8"/>
<circle cx="556.3" cy="187" r="2.6" fill="#aaaaaa" fill-opacity="0.7" stroke="#959595" stroke-opacity="0.55" stroke-width="0.8"/>
<circle cx="577" cy="186.4" r="2.6" fill="#aaaaaa" fill-opacity="0.7" stroke="#959595" stroke-opacity="0.55" stroke-width="0.8"/>
<circle cx="555" cy="191.4" r="2.6" fill="#aaaaaa" fill-opacity="0.7" stroke="#959595" stroke-opacity="0.55" stroke-width="0.8"/>
<circle cx="572" cy="194.6" r="2.6" fill="#aaaaaa" fill-opacity="0.7" stroke="#959595" stroke-opacity="0.55" stroke-width="0.8"/>
<circle cx="600.1" cy="166.9" r="2.6" fill="#aaaaaa" fill-opacity="0.7" stroke="#959595" stroke-opacity="0.55" stroke-width="0.8"/>
<circle cx="607" cy="166.9" r="2.6" fill="#aaaaaa" fill-opacity="0.7" stroke="#959595" stroke-opacity="0.55" stroke-width="0.8"/>
<circle cx="591.3" cy="168.8" r="2.6" fill="#aaaaaa" fill-opacity="0.7" stroke="#959595" stroke-opacity="0.55" stroke-width="0.8"/>
<circle cx="591.9" cy="175.7" r="2.6" fill="#aaaaaa" fill-opacity="0.7" stroke="#959595" stroke-opacity="0.55" stroke-width="0.8"/>
<circle cx="603.2" cy="61.4" r="2.6" fill="#aaaaaa" fill-opacity="0.7" stroke="#959595" stroke-opacity="0.55" stroke-width="0.8"/>
<circle cx="562.5" cy="110.2" r="2.6" fill="#aaaaaa" fill-opacity="0.7" stroke="#959595" stroke-opacity="0.55" stroke-width="0.8"/>
</g>
<path d="M409.1,39.4 V232.9" fill="none" stroke="#111" stroke-width="1.9"/>
<line x1="408.1" y1="94.5" x2="700" y2="94.5" stroke="#111" stroke-width="1.9"/>
<line x1="405.8" y1="39.4" x2="409.1" y2="39.4" stroke="#111" stroke-width="1.2"/>
<text x="404.6" y="43.5" font-size="11.3" font-family="Liberation Sans, sans-serif" font-weight="bold" fill="#111" text-anchor="end">10</text>
<line x1="405.8" y1="67.0" x2="409.1" y2="67.0" stroke="#111" stroke-width="1.2"/>
<text x="404.6" y="71.1" font-size="11.3" font-family="Liberation Sans, sans-serif" font-weight="bold" fill="#111" text-anchor="end">5</text>
<line x1="405.8" y1="94.7" x2="409.1" y2="94.7" stroke="#111" stroke-width="1.2"/>
<text x="404.6" y="98.8" font-size="11.3" font-family="Liberation Sans, sans-serif" font-weight="bold" fill="#111" text-anchor="end">0</text>
<line x1="405.8" y1="122.4" x2="409.1" y2="122.4" stroke="#111" stroke-width="1.2"/>
<text x="404.6" y="126.5" font-size="11.3" font-family="Liberation Sans, sans-serif" font-weight="bold" fill="#111" text-anchor="end">-5</text>
<line x1="405.8" y1="150.0" x2="409.1" y2="150.0" stroke="#111" stroke-width="1.2"/>
<text x="404.6" y="154.1" font-size="11.3" font-family="Liberation Sans, sans-serif" font-weight="bold" fill="#111" text-anchor="end">-10</text>
<line x1="405.8" y1="177.7" x2="409.1" y2="177.7" stroke="#111" stroke-width="1.2"/>
<text x="404.6" y="181.8" font-size="11.3" font-family="Liberation Sans, sans-serif" font-weight="bold" fill="#111" text-anchor="end">-15</text>
<line x1="405.8" y1="205.3" x2="409.1" y2="205.3" stroke="#111" stroke-width="1.2"/>
<text x="404.6" y="209.4" font-size="11.3" font-family="Liberation Sans, sans-serif" font-weight="bold" fill="#111" text-anchor="end">-20</text>
<line x1="405.8" y1="232.9" x2="409.1" y2="232.9" stroke="#111" stroke-width="1.2"/>
<text x="404.6" y="237.0" font-size="11.3" font-family="Liberation Sans, sans-serif" font-weight="bold" fill="#111" text-anchor="end">-25</text>
<line x1="447.6" y1="94.5" x2="447.6" y2="98.0" stroke="#111" stroke-width="1.3"/>
<text x="447.6" y="111.6" font-size="11" font-family="Liberation Sans, sans-serif" font-weight="bold" fill="#111" text-anchor="middle">14</text>
<line x1="476.5" y1="94.5" x2="476.5" y2="98.0" stroke="#111" stroke-width="1.3"/>
<text x="476.5" y="111.6" font-size="11" font-family="Liberation Sans, sans-serif" font-weight="bold" fill="#111" text-anchor="middle">17</text>
<line x1="505.3" y1="94.5" x2="505.3" y2="98.0" stroke="#111" stroke-width="1.3"/>
<text x="505.3" y="111.6" font-size="11" font-family="Liberation Sans, sans-serif" font-weight="bold" fill="#111" text-anchor="middle">20</text>
<line x1="534.2" y1="94.5" x2="534.2" y2="98.0" stroke="#111" stroke-width="1.3"/>
<text x="534.2" y="111.6" font-size="11" font-family="Liberation Sans, sans-serif" font-weight="bold" fill="#111" text-anchor="middle">23</text>
<line x1="563.0" y1="94.5" x2="563.0" y2="98.0" stroke="#111" stroke-width="1.3"/>
<text x="563.0" y="111.6" font-size="11" font-family="Liberation Sans, sans-serif" font-weight="bold" fill="#111" text-anchor="middle">26</text>
<line x1="591.9" y1="94.5" x2="591.9" y2="98.0" stroke="#111" stroke-width="1.3"/>
<text x="591.9" y="111.6" font-size="11" font-family="Liberation Sans, sans-serif" font-weight="bold" fill="#111" text-anchor="middle">29</text>
<line x1="620.7" y1="94.5" x2="620.7" y2="98.0" stroke="#111" stroke-width="1.3"/>
<text x="620.7" y="111.6" font-size="11" font-family="Liberation Sans, sans-serif" font-weight="bold" fill="#111" text-anchor="middle">32</text>
<line x1="649.6" y1="94.5" x2="649.6" y2="98.0" stroke="#111" stroke-width="1.3"/>
<text x="649.6" y="111.6" font-size="11" font-family="Liberation Sans, sans-serif" font-weight="bold" fill="#111" text-anchor="middle">35</text>
<line x1="678.4" y1="94.5" x2="678.4" y2="98.0" stroke="#111" stroke-width="1.3"/>
<text x="678.4" y="111.6" font-size="11" font-family="Liberation Sans, sans-serif" font-weight="bold" fill="#111" text-anchor="middle">38</text>
<text x="527.8" y="272.8" font-size="12.4" font-family="Liberation Sans, sans-serif" font-weight="bold" fill="#111" textLength="51.5" lengthAdjust="spacingAndGlyphs">Average</text>
<text transform="translate(381,133.1) rotate(-90)" font-size="12.4" font-family="Liberation Sans, sans-serif" font-weight="bold" fill="#111" text-anchor="middle" textLength="63.5" lengthAdjust="spacingAndGlyphs">Difference</text>
</svg>
</body></html>
